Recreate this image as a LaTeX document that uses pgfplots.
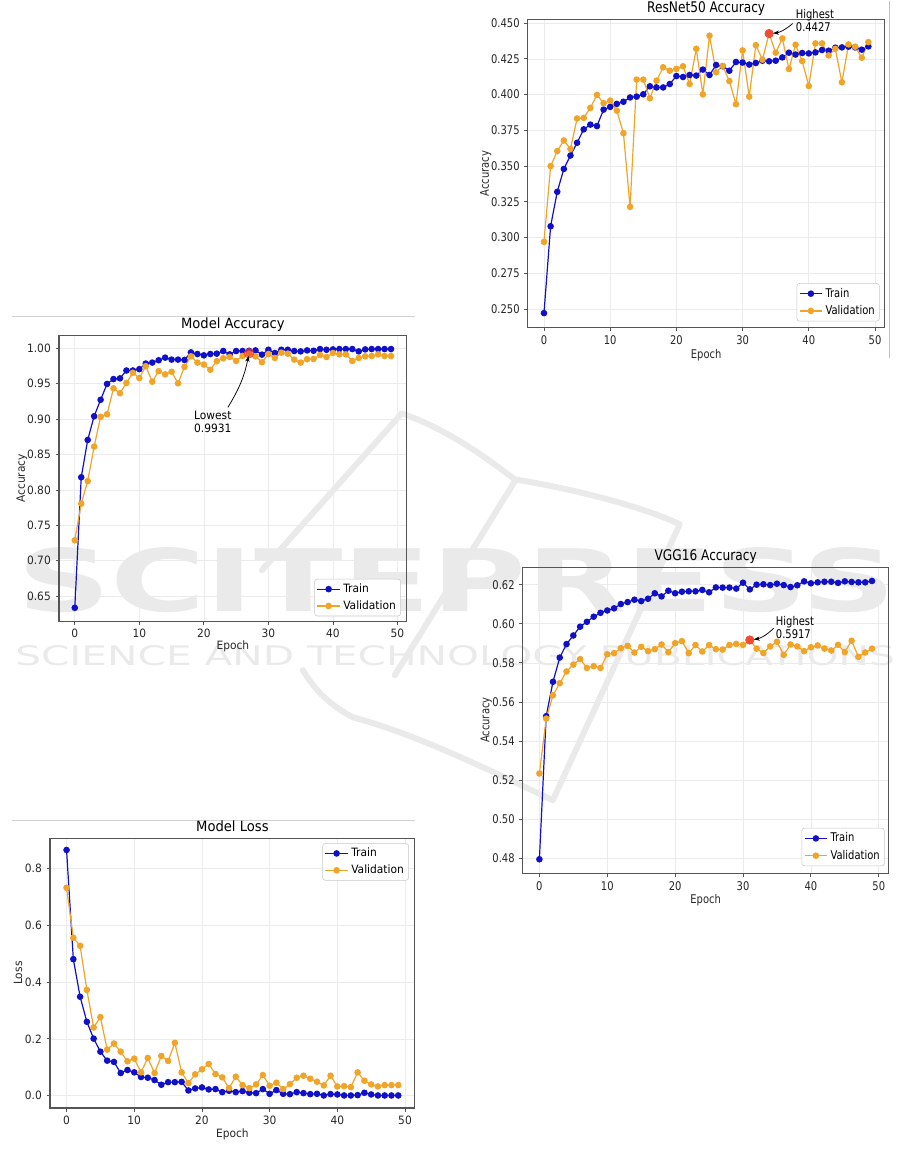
\documentclass[border=0pt]{standalone}
\usepackage{fontspec}
\setmainfont{DejaVu Sans}[FakeStretch=0.93]
\newfontfamily\narrowsans{DejaVu Sans}[FakeStretch=0.83]
\usepackage{pgfplots}
\usepackage{pgfplotstable}
\pgfplotsset{compat=1.18}
\usetikzlibrary{arrows.meta}

\definecolor{trainblue}{HTML}{1010C8}
\definecolor{valorange}{HTML}{F0A428}
\definecolor{bestred}{HTML}{F03C2C}
\definecolor{spine}{HTML}{555555}
\definecolor{ticktext}{HTML}{262626}
\definecolor{wmgray}{HTML}{EAEAEA}

\newcommand{\fL}{\fontsize{8.6}{10.3}\selectfont}
\newcommand{\fR}{\narrowsans\fontsize{9}{10.6}\selectfont}
\newcommand{\tL}{\fontsize{10.6}{12}\selectfont}
\newcommand{\tR}{\narrowsans\fontsize{11}{13}\selectfont}
\newcommand{\aL}{\fontsize{8.6}{9.6}\selectfont}
\newcommand{\aR}{\narrowsans\fontsize{9}{9.8}\selectfont}

\pgfplotsset{
  mpl/.style={
    scale only axis,
    xmin=-2.45, xmax=51.45,
    xtick={0,10,20,30,40,50},
    axis line style={spine, line width=0.9pt},
    every tick/.style={spine, line width=0.6pt},
    tick align=outside,
    tick pos=left,
    major tick length=2.6pt,
    grid=major,
    major grid style={draw=black!8, line width=0.5pt},
    /pgf/number format/assume math mode=true,
    scaled y ticks=false,
    yticklabel style={/pgf/number format/fixed, /pgf/number format/fixed zerofill},
    legend cell align=left,
    legend style={draw=black!22, rounded corners=2pt, fill=white, inner sep=1.5pt, row sep=0.6pt},
    title style={at={(0.5,1)}, anchor=base, yshift=-1pt, inner sep=0pt},
    xlabel={Epoch},
  },
  fontL/.style={
    tick label style={font=\fL, text=ticktext},
    label style={font=\fL, text=ticktext},
    title style={font=\tL},
    legend style={font=\fL},
  },
  fontR/.style={
    tick label style={font=\fR, text=ticktext},
    label style={font=\fR, text=ticktext},
    title style={font=\tR},
    legend style={font=\fR},
  },
  trainline/.style={trainblue, line width=0.9pt, mark=*, mark size=2pt,
    mark options={fill=trainblue, draw=trainblue}},
  valline/.style={valorange, line width=0.9pt, mark=*, mark size=2pt,
    mark options={fill=valorange, draw=valorange}},
  bestmark/.style={only marks, mark=*, mark size=3.2pt, bestred,
    mark options={fill=bestred, draw=none, fill opacity=0.85}, forget plot},
}

\pgfplotstableread{
epoch train val
0 0.2472 0.2970
1 0.3079 0.3500
2 0.3320 0.3605
3 0.3480 0.3679
4 0.3574 0.3620
5 0.3663 0.3833
6 0.3757 0.3837
7 0.3790 0.3907
8 0.3780 0.3998
9 0.3895 0.3940
10 0.3914 0.3958
11 0.3935 0.3888
12 0.3950 0.3730
13 0.3980 0.3215
14 0.3986 0.4105
15 0.4002 0.4105
16 0.4058 0.3974
17 0.4050 0.4098
18 0.4050 0.4191
19 0.4074 0.4167
20 0.4130 0.4180
21 0.4123 0.4198
22 0.4137 0.4074
23 0.4133 0.4320
24 0.4175 0.4002
25 0.4137 0.4412
26 0.4207 0.4156
27 0.4198 0.4200
28 0.4167 0.4095
29 0.4228 0.3933
30 0.4224 0.4309
31 0.4210 0.3986
32 0.4221 0.4346
33 0.4237 0.4244
34 0.4233 0.4427
35 0.4237 0.4293
36 0.4260 0.4393
37 0.4293 0.4179
38 0.4280 0.4349
39 0.4291 0.4235
40 0.4288 0.4060
41 0.4295 0.4358
42 0.4312 0.4358
43 0.4307 0.4274
44 0.4328 0.4320
45 0.4330 0.4086
46 0.4335 0.4351
47 0.4330 0.4335
48 0.4314 0.4258
49 0.4337 0.4367
}\resnet

\pgfplotstableread{
epoch train val
0 0.6336 0.7290
1 0.8180 0.7808
2 0.8707 0.8126
3 0.9042 0.8614
4 0.9274 0.9033
5 0.9498 0.9070
6 0.9567 0.9437
7 0.9577 0.9367
8 0.9688 0.9512
9 0.9688 0.9656
10 0.9707 0.9581
11 0.9786 0.9749
12 0.9800 0.9530
13 0.9833 0.9679
14 0.9870 0.9633
15 0.9842 0.9670
16 0.9842 0.9507
17 0.9837 0.9740
18 0.9944 0.9888
19 0.9921 0.9800
20 0.9902 0.9772
21 0.9921 0.9698
22 0.9926 0.9819
23 0.9963 0.9860
24 0.9916 0.9879
25 0.9963 0.9823
26 0.9963 0.9893
27 0.9967 0.9926
28 0.9972 0.9888
29 0.9912 0.9805
30 0.9981 0.9921
31 0.9935 0.9865
32 0.9981 0.9940
33 0.9981 0.9926
34 0.9963 0.9842
35 0.9958 0.9800
36 0.9972 0.9847
37 0.9967 0.9851
38 0.9991 0.9907
39 0.9981 0.9879
40 0.9986 0.9935
41 0.9991 0.9916
42 0.9991 0.9916
43 0.9991 0.9823
44 0.9958 0.9865
45 0.9986 0.9888
46 0.9991 0.9893
47 0.9991 0.9916
48 0.9991 0.9893
49 0.9991 0.9893
}\modelacc

\pgfplotstableread{
epoch train val
0 0.4795 0.5234
1 0.5527 0.5515
2 0.5703 0.5634
3 0.5827 0.5696
4 0.5896 0.5756
5 0.5940 0.5791
6 0.5985 0.5819
7 0.6010 0.5774
8 0.6036 0.5783
9 0.6056 0.5774
10 0.6068 0.5844
11 0.6079 0.5850
12 0.6101 0.5875
13 0.6111 0.5887
14 0.6123 0.5853
15 0.6116 0.5882
16 0.6128 0.5860
17 0.6156 0.5870
18 0.6140 0.5894
19 0.6169 0.5855
20 0.6156 0.5901
21 0.6164 0.5911
22 0.6166 0.5850
23 0.6166 0.5891
24 0.6173 0.5858
25 0.6161 0.5891
26 0.6186 0.5870
27 0.6185 0.5868
28 0.6185 0.5891
29 0.6180 0.5897
30 0.6210 0.5892
31 0.6176 0.5917
32 0.6200 0.5873
33 0.6202 0.5850
34 0.6198 0.5884
35 0.6205 0.5908
36 0.6198 0.5841
37 0.6188 0.5894
38 0.6197 0.5884
39 0.6217 0.5860
40 0.6207 0.5880
41 0.6212 0.5889
42 0.6215 0.5873
43 0.6215 0.5863
44 0.6209 0.5892
45 0.6217 0.5855
46 0.6214 0.5913
47 0.6212 0.5831
48 0.6212 0.5853
49 0.6219 0.5873
}\vgg

\pgfplotstableread{
epoch train val
0 0.8635 0.7306
1 0.4800 0.5553
2 0.3480 0.5270
3 0.2600 0.3718
4 0.2010 0.2400
5 0.1550 0.2765
6 0.1235 0.1624
7 0.1190 0.1835
8 0.0800 0.1553
9 0.0906 0.1212
10 0.0824 0.1306
11 0.0660 0.0824
12 0.0635 0.1330
13 0.0553 0.0800
14 0.0388 0.1400
15 0.0480 0.1224
16 0.0480 0.1859
17 0.0490 0.0824
18 0.0188 0.0447
19 0.0259 0.0753
20 0.0294 0.0930
21 0.0224 0.1118
22 0.0235 0.0765
23 0.0129 0.0647
24 0.0176 0.0270
25 0.0129 0.0671
26 0.0165 0.0376
27 0.0106 0.0270
28 0.0094 0.0400
29 0.0235 0.0729
30 0.0070 0.0353
31 0.0200 0.0459
32 0.0070 0.0235
33 0.0059 0.0412
34 0.0129 0.0635
35 0.0094 0.0706
36 0.0059 0.0600
37 0.0070 0.0494
38 0.0012 0.0365
39 0.0059 0.0706
40 0.0047 0.0329
41 0.0012 0.0341
42 0.0012 0.0306
43 0.0024 0.0824
44 0.0106 0.0529
45 0.0047 0.0400
46 0.0012 0.0329
47 0.0012 0.0376
48 0.0012 0.0376
49 0.0012 0.0376
}\modelloss

\begin{document}
\begin{tikzpicture}
% page frame and watermark, in pixel units of the reference
\begin{scope}[x=0.75pt, y=-0.75pt]
  \path (0,0) rectangle (901,1176);
  \node[anchor=north west, inner sep=0pt, text=wmgray] at (17,547)
    {\resizebox{658.5pt}{48pt}{\bfseries SCITEPRESS}};
  \node[anchor=north west, inner sep=0pt, text=wmgray] at (15,645)
    {\resizebox{660pt}{15pt}{SCIENCE AND TECHNOLOGY PUBLICATIONS}};
  \draw[wmgray, line width=4.5pt, line join=round, line cap=round]
    (262,570) -- (402,413) .. controls (450,430) and (490,460) .. (515,479)
    .. controls (570,488) and (640,505) .. (680,524) -- (553,800)
    .. controls (500,775) and (420,735) .. (353,717)
    .. controls (330,705) and (315,690) .. (303,670);
  \draw[wmgray, line width=4.5pt, line cap=round] (515,481) -- (395,675);
  \draw[black!18, line width=0.6pt] (12,316) -- (415,316);
  \draw[black!18, line width=0.6pt] (12,820) -- (415,820);
  \draw[black!25, line width=0.8pt] (890,0) -- (890,358);
\end{scope}

% ResNet50 accuracy (top right)
\begin{axis}[mpl, fontR,
  at={(396pt,-14.25pt)}, anchor=north west,
  width=267.75pt, height=231pt,
  ymin=0.2372, ymax=0.4525,
  ytick={0.25,0.275,0.3,0.325,0.35,0.375,0.4,0.425,0.45},
  yticklabel style={/pgf/number format/precision=3},
  ylabel={Accuracy}, ylabel shift=-7pt, xlabel shift=-3.5pt,
  title={ResNet50 Accuracy},
  legend style={at={(axis description cs:1,0)}, anchor=south east, xshift=-3.75pt, yshift=4.5pt},
]
\addplot[trainline] table[x=epoch, y=train] {\resnet};
\addlegendentry{Train}
\addplot[valline] table[x=epoch, y=val] {\resnet};
\addlegendentry{Validation}
\addplot[bestmark] coordinates {(34,0.4427)};
\coordinate (rmax) at (axis cs:34,0.4427);
\end{axis}

% Model accuracy (middle left)
\begin{axis}[mpl, fontL,
  at={(44.25pt,-251.25pt)}, anchor=north west,
  width=261pt, height=214.5pt,
  ymin=0.6146, ymax=1.0184,
  ytick={0.65,0.7,0.75,0.8,0.85,0.9,0.95,1.0},
  yticklabel style={/pgf/number format/precision=2},
  ylabel={Accuracy}, ylabel shift=-7pt, xlabel shift=-5pt,
  title={Model Accuracy},
  legend style={at={(axis description cs:1,0)}, anchor=south east, xshift=-4.5pt, yshift=3.75pt},
]
\addplot[trainline] table[x=epoch, y=train] {\modelacc};
\addlegendentry{Train}
\addplot[valline] table[x=epoch, y=val] {\modelacc};
\addlegendentry{Validation}
\addplot[bestmark, mark size=3.6pt, mark options={fill=bestred, draw=none, fill opacity=0.6}] coordinates {(27,0.9931)};
\coordinate (amin) at (axis cs:27,0.9931);
\end{axis}

% VGG16 accuracy (middle right)
\begin{axis}[mpl, fontR,
  at={(392.25pt,-425.25pt)}, anchor=north west,
  width=274.5pt, height=229.5pt,
  ymin=0.4724, ymax=0.6289,
  ytick={0.48,0.5,0.52,0.54,0.56,0.58,0.6,0.62},
  yticklabel style={/pgf/number format/precision=2},
  ylabel={Accuracy}, ylabel shift=-6.5pt, xlabel shift=-4pt,
  title={VGG16 Accuracy},
  legend style={at={(axis description cs:1,0)}, anchor=south east, xshift=-3pt, yshift=5.25pt},
]
\addplot[trainline] table[x=epoch, y=train] {\vgg};
\addlegendentry{Train}
\addplot[valline] table[x=epoch, y=val] {\vgg};
\addlegendentry{Validation}
\addplot[bestmark] coordinates {(31,0.5917)};
\coordinate (vmax) at (axis cs:31,0.5917);
\end{axis}

% Model loss (bottom left)
\begin{axis}[mpl, fontL,
  at={(37.5pt,-628.5pt)}, anchor=north west,
  width=273.75pt, height=202.5pt,
  ymin=-0.043, ymax=0.905,
  ytick={0,0.2,0.4,0.6,0.8},
  yticklabel style={/pgf/number format/precision=1},
  ylabel={Loss}, ylabel shift=-5pt, xlabel shift=-4pt,
  title={Model Loss},
  legend style={at={(axis description cs:1,1)}, anchor=north east, xshift=-4.5pt, yshift=-3.75pt},
]
\addplot[trainline] table[x=epoch, y=train] {\modelloss};
\addlegendentry{Train}
\addplot[valline] table[x=epoch, y=val] {\modelloss};
\addlegendentry{Validation}
\end{axis}

% annotations
\begin{scope}[x=0.75pt, y=-0.75pt]
  \node[anchor=north west, align=left, inner sep=0pt, font=\aR] at (796,9) {Highest\\0.4427};
  \draw[-{Stealth[length=4.5pt,width=3.2pt]}, line width=0.55pt, shorten >=3pt]
    (793,23) to[bend left=18] (rmax);
  \node[anchor=north west, align=left, inner sep=0pt, font=\aL] at (194,411) {Lowest\\0.9931};
  \draw[-{Stealth[length=4.5pt,width=3.2pt]}, line width=0.55pt, shorten >=2pt]
    (228,407) to[bend right=10] (amin);
  \node[anchor=north west, align=left, inner sep=0pt, font=\aR] at (776,616) {Highest\\0.5917};
  \draw[-{Stealth[length=4.5pt,width=3.2pt]}, line width=0.55pt, shorten >=3pt]
    (774,628) to[bend left=18] (vmax);
\end{scope}
\end{tikzpicture}
\end{document}
